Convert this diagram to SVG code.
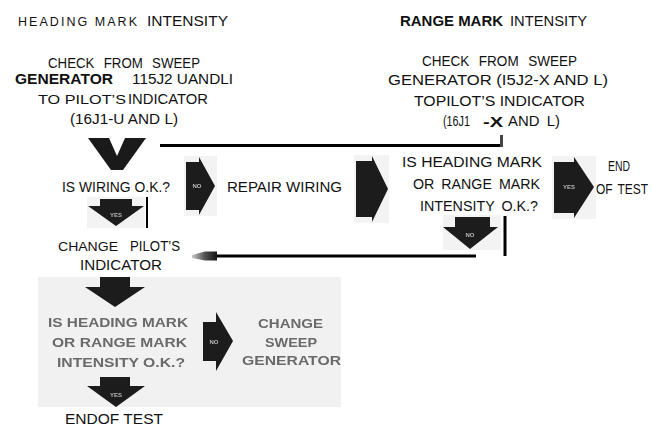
<svg xmlns="http://www.w3.org/2000/svg" width="652" height="427" viewBox="0 0 652 427">
<style>
text{font-family:"Liberation Sans",Arial,sans-serif;fill:#111;font-size:14px}
.s{font-size:12.5px}
.b{font-weight:bold}
.lbl{font-size:6px;font-weight:bold;fill:#bbb;text-anchor:middle}
.arr{fill:#1a1a1a}
.abox{fill:#f3f3f3}
.g text{fill:#6a6a6a;font-weight:bold;font-size:13px}
.conn{stroke:#000;stroke-width:3;fill:none}
</style>
<defs>
<filter id="blur" x="-5%" y="-5%" width="110%" height="110%"><feGaussianBlur stdDeviation="0.7"/></filter>
<filter id="soft" x="-10%" y="-10%" width="120%" height="120%"><feGaussianBlur stdDeviation="0.5"/></filter>
<linearGradient id="stub" x1="0" y1="0" x2="1" y2="0"><stop offset="0" stop-color="#c8c8c8"/><stop offset="0.5" stop-color="#555"/><stop offset="1" stop-color="#111"/></linearGradient>
</defs>
<rect width="652" height="427" fill="#fff"/>

<g id="title-left">
<text class="s" x="18" y="26" textLength="119" lengthAdjust="spacing">HEADING MARK</text>
<text x="147" y="26" font-size="15" textLength="81" lengthAdjust="spacingAndGlyphs">INTENSITY</text>
</g>
<g id="title-right">
<text class="b" x="400" y="26" font-size="13.5" textLength="103" lengthAdjust="spacingAndGlyphs">RANGE MARK</text>
<text x="510" y="26" textLength="77" lengthAdjust="spacingAndGlyphs">INTENSITY</text>
</g>

<g id="check-left">
<text x="48" y="68" font-size="14.5" textLength="152" lengthAdjust="spacingAndGlyphs" word-spacing="6">CHECK FROM SWEEP</text>
<text class="b" x="15" y="84" font-size="14.5" textLength="98" lengthAdjust="spacingAndGlyphs">GENERATOR</text>
<text x="132" y="84" font-size="14.5" textLength="101" lengthAdjust="spacingAndGlyphs">115J2 UANDLI</text>
<text class="s" x="38" y="104" font-size="13.5" textLength="88" lengthAdjust="spacingAndGlyphs">TO PILOT’S</text>
<text x="128" y="104" font-size="15" textLength="80" lengthAdjust="spacingAndGlyphs">INDICATOR</text>
<text x="70" y="124" font-size="15" textLength="108" lengthAdjust="spacingAndGlyphs">(16J1-U AND L)</text>
</g>

<g id="check-right">
<text x="422" y="66" font-size="14.5" textLength="155" lengthAdjust="spacingAndGlyphs" word-spacing="6">CHECK FROM SWEEP</text>
<text x="388" y="85" font-size="15" textLength="220" lengthAdjust="spacingAndGlyphs">GENERATOR (I5J2-X AND L)</text>
<text x="414" y="106" font-size="15" textLength="171" lengthAdjust="spacingAndGlyphs">TOPILOT’S INDICATOR</text>
<text x="443" y="126" font-size="14" textLength="27" lengthAdjust="spacingAndGlyphs">(16J1</text>
<text class="b" x="483" y="127" font-size="15" textLength="20" lengthAdjust="spacingAndGlyphs">-X</text>
<text x="508" y="126" font-size="14" textLength="52" lengthAdjust="spacingAndGlyphs" word-spacing="3">AND L)</text>
</g>

<g id="wiring-q">
<polygon class="arr" points="88,138 109,138 117,156 125,138 146,138 123,170 111,170"/>
<text x="62" y="192" font-size="14.5" textLength="108" lengthAdjust="spacingAndGlyphs">IS WIRING O.K.?</text>
</g>

<g id="arrow-no-1" filter="url(#soft)">
<rect class="abox" x="184" y="156" width="33" height="60"/>
<polygon class="arr" points="186,162 199,162 199,157 215,186 199,215 199,210 186,210"/>
<text class="lbl" x="197" y="188">NO</text>
</g>

<g id="repair-wiring">
<text x="227" y="192" font-size="15" textLength="115" lengthAdjust="spacingAndGlyphs">REPAIR WIRING</text>
</g>

<g id="arrow-2" filter="url(#soft)">
<rect class="abox" x="354" y="155" width="35" height="68"/>
<polygon class="arr" points="356,161 372,161 372,156 388,189 372,222 372,217 356,217"/>
</g>

<g id="intensity-q1">
<text x="402" y="167" font-size="15" textLength="140" lengthAdjust="spacingAndGlyphs">IS HEADING MARK</text>
<text x="413" y="189" font-size="15" textLength="127" lengthAdjust="spacingAndGlyphs" word-spacing="3">OR RANGE MARK</text>
<text x="420" y="211" font-size="15" textLength="118" lengthAdjust="spacingAndGlyphs" word-spacing="3">INTENSITY O.K.?</text>
</g>

<g id="arrow-yes-1" filter="url(#soft)">
<rect class="abox" x="552" y="156" width="44" height="63"/>
<polygon class="arr" points="554,162 574,162 574,157 594,187 574,218 574,213 554,213"/>
<text class="lbl" x="569" y="189">YES</text>
</g>

<g id="end-test-1">
<text x="608" y="171" font-size="15" textLength="22" lengthAdjust="spacingAndGlyphs">END</text>
<text x="596" y="194" font-size="13" textLength="52" lengthAdjust="spacingAndGlyphs" word-spacing="2">OF TEST</text>
</g>

<g id="arrow-yes-2" filter="url(#soft)">
<rect class="abox" x="87" y="197" width="58" height="31"/>
<polygon class="arr" points="100,199 132,199 132,206 144,206 116,226 88,206 100,206"/>
<text class="lbl" x="116" y="217">YES</text>
</g>

<g id="arrow-no-2" filter="url(#soft)">
<rect class="abox" x="443" y="215" width="58" height="35"/>
<polygon class="arr" points="455,217 490,217 490,227 498,227 470,249 443,227 455,227"/>
<text class="lbl" x="470" y="237">NO</text>
</g>

<g id="change-indicator">
<text class="s" x="58" y="251" font-size="13" textLength="60" lengthAdjust="spacingAndGlyphs">CHANGE</text>
<text x="130" y="251" font-size="15" textLength="50" lengthAdjust="spacingAndGlyphs">PILOT’S</text>
<text x="80" y="270" font-size="15" textLength="82" lengthAdjust="spacingAndGlyphs">INDICATOR</text>
</g>

<g id="connectors">
<line class="conn" x1="160" y1="145.5" x2="502" y2="145.5"/>
<line x1="501.5" y1="135" x2="501.5" y2="147" stroke="#444" stroke-width="3"/>
<line x1="147" y1="197" x2="147" y2="228" stroke="#000" stroke-width="2"/>
<line class="conn" x1="505" y1="216" x2="505" y2="256"/>
<line class="conn" x1="476" y1="256" x2="216" y2="256"/>
<polygon points="192,255 205,251.5 217,251.5 217,260.5 205,260.5 192,258" fill="url(#stub)"/>
</g>

<g id="lower-block">
<rect x="38" y="277" width="303" height="130" fill="#f1f1f1"/>
<g class="g" filter="url(#blur)">
<polygon class="arr" points="100,277 130,277 130,287 145,287 115,307 85,287 100,287"/>
<text x="48" y="327" textLength="140" lengthAdjust="spacingAndGlyphs">IS HEADING MARK</text>
<text x="52" y="347" textLength="135" lengthAdjust="spacingAndGlyphs">OR RANGE MARK</text>
<text x="57" y="367" textLength="128" lengthAdjust="spacingAndGlyphs">INTENSITY O.K.?</text>
<polygon class="arr" points="203,322 216,322 216,312 233,341 216,371 216,361 203,361"/>
<text x="214" y="344" style="font-size:6px;fill:#bbb;text-anchor:middle">NO</text>
<text x="258" y="328" textLength="65" lengthAdjust="spacingAndGlyphs">CHANGE</text>
<text x="265" y="347" textLength="52" lengthAdjust="spacingAndGlyphs">SWEEP</text>
<text x="242" y="365" textLength="99" lengthAdjust="spacingAndGlyphs">GENERATOR</text>
<polygon class="arr" points="100,377 130,377 130,386 145,386 116,407 87,386 100,386"/>
<text x="116" y="397" style="font-size:6px;fill:#bbb;text-anchor:middle">YES</text>
</g>
</g>

<g id="end-test-2">
<text x="65" y="424" font-size="14.5" textLength="98" lengthAdjust="spacingAndGlyphs">ENDOF TEST</text>
</g>
</svg>
